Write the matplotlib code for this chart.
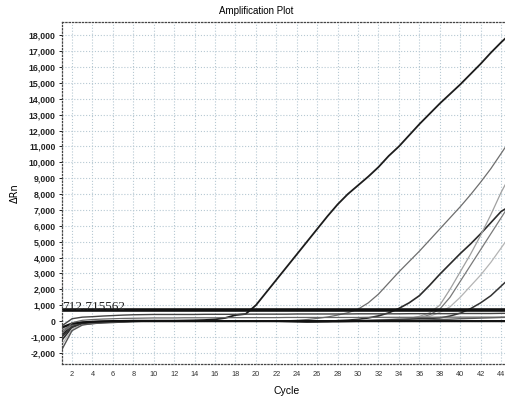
import matplotlib
matplotlib.use("Agg")
from matplotlib import pyplot as plt
from matplotlib.ticker import FuncFormatter, MultipleLocator
import numpy as np

cycles = list(range(1, 46))

# amplification curves (delta Rn per cycle)
well_a = [-900, -250, -100, -50, -20, 0, 20, 30, 30, 30, 30, 30, 40, 50, 70,
          110, 200, 380, 450, 1000, 1800, 2600, 3400, 4200, 5000, 5800, 6600, 7350, 8000, 8550,
          9100, 9700, 10400, 11000, 11700, 12400, 13050, 13700, 14300, 14900, 15550, 16200, 16900, 17550, 18150]
well_b = [-600, -200, -80, -40, -20, 0, 0, 10, 10, 10, 10, 10, 10, 0, 0,
          0, 0, 0, 0, 0, 0, 10, 20, 50, 100, 170, 260, 380, 530, 750,
          1150, 1700, 2400, 3100, 3750, 4400, 5100, 5800, 6500, 7200, 7950, 8750, 9600, 10550, 11500]
well_c = [-1200, -400, -200, -150, -100, -80, -50, -20, 0, 0, 0, 0, 0, 0, 0,
          0, 0, 0, 0, 0, 0, 0, -20, -40, -60, -60, -40, 30, 60, 110,
          200, 330, 520, 800, 1150, 1600, 2250, 2950, 3600, 4250, 4850, 5500, 6200, 6900, 7300]
well_d = [-500, -150, -60, -30, -10, 0, 0, 0, 0, 0, 0, 0, 0, 0, 0,
          0, 0, 0, 0, 0, 0, 0, 0, 0, 0, 0, 0, 0, 0, 10,
          20, 30, 40, 80, 160, 300, 520, 1000, 2000, 3100, 4200, 5400, 6700, 8100, 9300]
well_e = [-700, -300, -120, -60, -30, -10, 0, 0, 0, 0, 0, 0, 0, 0, 0,
          0, 0, 0, 0, 0, 0, 0, 0, 0, -20, -40, -60, -60, -40, -20,
          0, 30, 60, 110, 160, 200, 400, 750, 1500, 2500, 3500, 4500, 5500, 6500, 7500]
well_f = [-1500, -500, -200, -120, -80, -50, -30, -10, 0, 0, 0, 0, 0, 0, 0,
          0, 0, 0, 0, 0, 0, 0, 0, 0, 0, 0, 0, 0, 20, 40,
          60, 90, 120, 160, 200, 250, 300, 550, 900, 1500, 2200, 2900, 3700, 4600, 5500]
well_g = [-1000, -350, -150, -100, -60, -40, -20, 0, 0, 0, 0, 0, 0, 0, 0,
          0, 0, 0, 0, 0, 0, 0, 0, 0, 0, 0, 0, 0, 0, 20,
          40, 60, 80, 100, 120, 150, 170, 200, 320, 500, 780, 1150, 1600, 2200, 2800]

# wells that stay near baseline
flat_h = [-300, 150, 250, 280, 320, 350, 380, 400, 410, 420, 420, 420, 420, 420, 430,
          430, 430, 430, 440, 440, 440, 440, 440, 450, 450, 450, 450, 450, 450, 460,
          460, 460, 460, 460, 470, 470, 470, 470, 470, 480, 480, 480, 480, 490, 490]
flat_i = [-1800, -600, -250, -150, -100, -60, -30, -10, 0, 0, 0, 0, 0, 0, 0,
          0, 0, 0, 0, 0, 0, 0, 0, 0, 0, 0, 0, 0, 0, 0,
          10, 20, 30, 40, 50, 60, 80, 100, 120, 150, 170, 190, 210, 230, 250]
flat_j = [-400, -150, -80, -40, -20, 0, 0, 0, 0, 0, 0, 0, 0, 0, 0,
          0, 0, 0, 0, 0, 0, 0, 0, 0, 0, 0, 0, 0, 0, 0,
          0, 0, 0, 0, 0, 0, 0, 0, 0, 0, 0, 0, 0, 0, 0]
flat_k = [-800, -100, 50, 100, 130, 150, 170, 180, 190, 200, 200, 200, 210, 210, 210,
          210, 220, 220, 220, 220, 220, 220, 230, 230, 230, 230, 230, 230, 230, 230,
          240, 240, 240, 240, 240, 240, 240, 250, 250, 250, 250, 250, 250, 250, 250]

threshold = 712.715562

curves = [
    (well_a, "#1c1c1c", 1.3),
    (well_b, "#6e6e6e", 0.9),
    (well_c, "#2b2b2b", 1.2),
    (well_d, "#a0a0a0", 0.9),
    (well_e, "#7a7a7a", 0.9),
    (well_f, "#b4b4b4", 0.9),
    (well_g, "#333333", 1.1),
    (flat_h, "#444444", 1.0),
    (flat_i, "#555555", 1.0),
    (flat_j, "#111111", 1.6),
    (flat_k, "#666666", 0.9),
]

fig = plt.figure(figsize=(5.05, 3.96), dpi=100)
ax = fig.add_axes([0.1224, 0.0808, 0.89, 0.8642])

for vals, col, lw in curves:
    ax.plot(cycles, vals, color=col, lw=lw)

ax.axhline(threshold, color="#111111", lw=2.6)
ax.text(1.05, threshold - 40, "712.715562", family="Liberation Serif",
        fontsize=9.5, color="#222222", va="baseline", ha="left")

ax.set_xlim(1, 45)
ax.set_ylim(-2700, 18850)
ax.xaxis.set_major_locator(MultipleLocator(2))
ax.yaxis.set_major_locator(MultipleLocator(1000))
ax.yaxis.set_major_formatter(FuncFormatter(lambda v, p: f"{int(v):,}"))

ax.grid(True, color="#b7c9d3", ls=":", lw=0.8)
for side in ["top", "left", "bottom"]:
    ax.spines[side].set_linestyle(":")
    ax.spines[side].set_color("#444444")
    ax.spines[side].set_linewidth(0.9)
ax.spines["right"].set_visible(False)

ax.tick_params(axis="y", length=2.5, width=0.7, pad=2, labelsize=6.3, colors="#222222")
ax.tick_params(axis="x", length=0, pad=5, labelsize=5.3, colors="#333333")
for lab in ax.get_yticklabels():
    lab.set_fontweight("bold")
    lab.set_family("Liberation Sans")
for lab in ax.get_xticklabels():
    lab.set_family("Liberation Sans")

ax.set_xlabel("Cycle", family="Liberation Sans", fontsize=7.5, labelpad=6)
ax.set_ylabel("ΔRn", family="DejaVu Sans", fontsize=7, labelpad=6)
fig.text(256 / 505, 1 - 11 / 396, "Amplification Plot", family="Liberation Sans",
         fontsize=7, ha="center", va="center")

fig.savefig("out.png", dpi=100)
